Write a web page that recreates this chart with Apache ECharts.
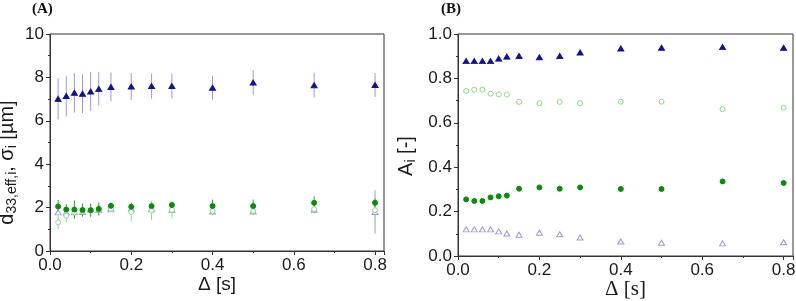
<!DOCTYPE html>
<html>
<head>
<meta charset="utf-8">
<script src="https://cdn.jsdelivr.net/npm/echarts@6/dist/echarts.min.js"></script>
<style>
  html, body { margin: 0; padding: 0; background: #fff; }
  #chart { width: 796px; height: 301px; }
</style>
</head>
<body>
<div id="chart"></div>
<script>
// diffusion time Δ [s]
const delta = [0.02, 0.04, 0.06, 0.08, 0.10, 0.12, 0.15, 0.2, 0.25, 0.3, 0.4, 0.5, 0.65, 0.8];

// panel A: d33,eff,i and sigma_i [um], with error bars
const d1 = [7.01, 7.14, 7.29, 7.25, 7.35, 7.47, 7.56, 7.58, 7.60, 7.60, 7.52, 7.76, 7.64, 7.65];
const d1Err = [0.95, 0.94, 0.91, 0.89, 0.90, 0.77, 0.66, 0.62, 0.58, 0.57, 0.55, 0.57, 0.57, 0.55];
const sig1 = [1.78, 1.78, 1.78, 1.80, 1.92, 1.90, 1.92, 1.95, 1.92, 1.90, 1.82, 1.82, 1.90, 1.80];
const sig1Err = [0.12, 0.12, 0.12, 0.12, 0.15, 0.15, 0.1, 0.1, 0.1, 0.1, 0.1, 0.12, 0.12, 1.0];
const d2 = [2.05, 1.91, 1.91, 1.89, 1.88, 1.94, 2.08, 2.04, 2.07, 2.12, 2.07, 2.07, 2.22, 2.22];
const d2Err = [0.3, 0.25, 0.42, 0.3, 0.3, 0.3, 0.15, 0.15, 0.15, 0.1, 0.3, 0.3, 0.3, 0.2];
const sig2 = [1.32, 1.62, 1.78, 1.82, 1.88, 1.92, 1.95, 1.80, 1.87, 1.90, 1.85, 1.85, 1.93, 1.88];
const sig2Err = [0.32, 0.3, 0.3, 0.25, 0.3, 0.25, 0.15, 0.45, 0.45, 0.4, 0.2, 0.2, 0.2, 0.2];

// panel B: fractions A_i [-]
const a1 = [0.878, 0.878, 0.878, 0.878, 0.889, 0.898, 0.901, 0.895, 0.901, 0.917, 0.935, 0.938, 0.941, 0.938];
const a2open = [0.743, 0.749, 0.749, 0.731, 0.728, 0.727, 0.694, 0.688, 0.694, 0.688, 0.695, 0.695, 0.661, 0.668];
const a2 = [0.255, 0.248, 0.248, 0.264, 0.269, 0.272, 0.303, 0.309, 0.303, 0.309, 0.302, 0.302, 0.336, 0.329];
const a1open = [0.120, 0.120, 0.120, 0.120, 0.111, 0.101, 0.096, 0.105, 0.098, 0.083, 0.065, 0.060, 0.057, 0.062];

const NAVY = "#12128f";
const LAVENDER = "#9a9ae4";
const GREEN = "#0b8a0b";
const LIGHTGREEN = "#8fd68f";

const pts = (ys) => delta.map((x, i) => [x, ys[i]]);
const bars = (ys, es) => delta.map((x, i) => [x, ys[i] - es[i], ys[i] + es[i]]);

function errSeries(ys, es, color, axisIdx) {
  return {
    type: "custom",
    xAxisIndex: axisIdx,
    yAxisIndex: axisIdx,
    data: bars(ys, es),
    encode: { x: 0, y: [1, 2] },
    silent: true,
    renderItem: (params, api) => {
      const lo = api.coord([api.value(0), api.value(1)]);
      const hi = api.coord([api.value(0), api.value(2)]);
      return {
        type: "line",
        shape: { x1: lo[0], y1: lo[1], x2: hi[0], y2: hi[1] },
        style: { stroke: color, lineWidth: 1 },
      };
    },
  };
}

function markSeries(ys, symbol, fill, stroke, axisIdx, size) {
  return {
    type: "scatter",
    xAxisIndex: axisIdx,
    yAxisIndex: axisIdx,
    data: pts(ys),
    symbol: symbol,
    symbolSize: size,
    itemStyle: { color: fill, borderColor: stroke, borderWidth: 1, opacity: 1 },
    silent: true,
  };
}

const sans = "'Liberation Sans', Arial, sans-serif";
const serif = "'Liberation Serif', 'Times New Roman', serif";

const axisCommon = {
  axisLine: { show: true, lineStyle: { color: "#333", width: 1 } },
  axisTick: { show: true, inside: false, length: 4, lineStyle: { color: "#333" } },
  minorTick: { show: true, splitNumber: 2, length: 2, lineStyle: { color: "#333" } },
  splitLine: { show: false },
};

const subRich = {
  n: { fontFamily: sans, fontSize: 20, color: "#1a1a1a", lineHeight: 22, verticalAlign: "top" },
  s: { fontFamily: sans, fontSize: 14, color: "#1a1a1a", lineHeight: 15, padding: [10, 0, 0, 0], verticalAlign: "bottom" },
};

const chart = echarts.init(document.getElementById("chart"));

const option = {
  animation: false,
  grid: [
    { left: 50, top: 34, width: 334, height: 217, show: true, borderColor: "#333", borderWidth: 1, outerBoundsMode: "none" },
    { left: 458, top: 34, width: 335, height: 222, show: true, borderColor: "#333", borderWidth: 1, outerBoundsMode: "none" },
  ],
  xAxis: [
    {
      ...axisCommon,
      gridIndex: 0, type: "value", min: 0, max: 0.822, interval: 0.2,
      name: "Δ [s]", nameLocation: "middle", nameGap: 24, nameMoveOverlap: false,
      nameTextStyle: { fontFamily: sans, fontSize: 19, color: "#1a1a1a" },
      axisLabel: { fontFamily: sans, fontSize: 17, color: "#1a1a1a", margin: 6, showMaxLabel: false,
        formatter: (v) => v.toFixed(1) },
    },
    {
      ...axisCommon,
      gridIndex: 1, type: "value", min: 0, max: 0.823, interval: 0.2,
      name: "Δ [s]", nameLocation: "middle", nameGap: 23, nameMoveOverlap: false,
      nameTextStyle: { fontFamily: serif, fontSize: 21, color: "#1a1a1a" },
      axisLabel: { fontFamily: sans, fontSize: 17, color: "#1a1a1a", margin: 6, showMaxLabel: false,
        formatter: (v) => v.toFixed(1) },
    },
  ],
  yAxis: [
    {
      ...axisCommon,
      gridIndex: 0, type: "value", min: 0, max: 10, interval: 2,
      name: "{n|d}{s|33,eff,i}{n|, σ}{s|i}{n| [µm]}",
      nameLocation: "middle", nameRotate: 90, nameGap: 31,
      nameTextStyle: { fontFamily: sans, color: "#1a1a1a", rich: subRich, padding: [0, 40, 0, 0] },
      axisLabel: { fontFamily: sans, fontSize: 17, color: "#1a1a1a", margin: 6 },
    },
    {
      ...axisCommon,
      gridIndex: 1, type: "value", min: 0, max: 1, interval: 0.2,
      name: "{n|A}{s|i}{n| [-]}",
      nameLocation: "middle", nameRotate: 90, nameGap: 40,
      nameTextStyle: { fontFamily: sans, color: "#1a1a1a", rich: subRich, padding: [0, 22, 0, 0] },
      axisLabel: { fontFamily: sans, fontSize: 17, color: "#1a1a1a", margin: 6, formatter: (v) => v.toFixed(1) },
    },
  ],
  graphic: [
    { type: "text", left: 32, top: 2, style: { text: "(A)", font: "bold 15px " + serif, fill: "#111" } },
    { type: "text", left: 441, top: 2, style: { text: "(B)", font: "bold 15px " + serif, fill: "#111" } },
  ],
  series: [
    errSeries(d1, d1Err, LAVENDER, 0),
    errSeries(sig1, sig1Err, LAVENDER, 0),
    errSeries(sig2, sig2Err, LIGHTGREEN, 0),
    errSeries(d2, d2Err, "#3a9e3a", 0),
    markSeries(d1, "triangle", NAVY, NAVY, 0, [6, 5]),
    markSeries(sig1, "triangle", "#fff", LAVENDER, 0, [6, 5]),
    markSeries(sig2, "circle", "#fff", LIGHTGREEN, 0, 5),
    markSeries(d2, "circle", GREEN, GREEN, 0, 5),

    markSeries(a1, "triangle", NAVY, NAVY, 1, [6, 5]),
    markSeries(a2open, "circle", "#fff", LIGHTGREEN, 1, 5),
    markSeries(a2, "circle", GREEN, GREEN, 1, 5),
    markSeries(a1open, "triangle", "#fff", LAVENDER, 1, [6, 5]),
  ],
};

chart.setOption(option);
</script>
</body>
</html>
